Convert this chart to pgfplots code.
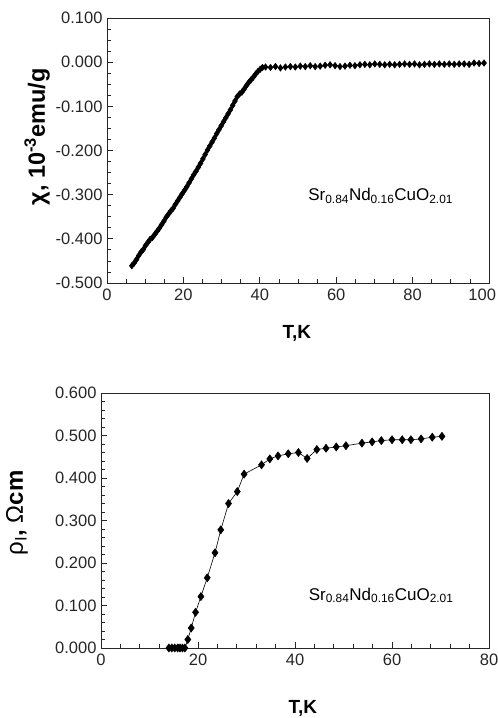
\documentclass[border=0pt]{standalone}
\usepackage{fontspec}
\setmainfont{Liberation Sans}
\usepackage{pgfplots}
\pgfplotsset{compat=1.18}

% chi(T), top panel
\pgfplotstableread{
T chi
6.5 -0.461
7.1 -0.455
7.7 -0.447
8.3 -0.438
8.9 -0.430
9.5 -0.424
10.1 -0.415
10.7 -0.408
11.3 -0.401
11.9 -0.397
12.5 -0.390
13.1 -0.383
13.7 -0.376
14.3 -0.368
14.9 -0.360
15.5 -0.351
16.1 -0.344
16.7 -0.337
17.3 -0.331
17.9 -0.322
18.5 -0.314
19.1 -0.306
19.7 -0.298
20.3 -0.290
20.9 -0.282
21.5 -0.273
22.1 -0.264
22.7 -0.255
23.3 -0.247
23.9 -0.238
24.5 -0.229
25.1 -0.219
25.7 -0.209
26.3 -0.199
26.9 -0.190
27.5 -0.181
28.1 -0.172
28.7 -0.162
29.3 -0.153
29.9 -0.144
30.5 -0.135
31.1 -0.126
31.7 -0.117
32.3 -0.108
32.9 -0.098
33.5 -0.088
34.1 -0.078
34.7 -0.072
35.3 -0.068
35.9 -0.061
36.5 -0.053
37.1 -0.046
37.7 -0.040
38.3 -0.034
38.9 -0.027
39.5 -0.021
40.1 -0.016
40.7 -0.012
41.5 -0.011
42.8 -0.012
44.1 -0.010
45.4 -0.013
46.7 -0.011
48.0 -0.010
49.3 -0.011
50.6 -0.009
51.9 -0.010
53.2 -0.008
54.5 -0.010
55.8 -0.009
57.1 -0.007
58.4 -0.006
59.7 -0.008
61.0 -0.010
62.3 -0.009
63.6 -0.007
64.9 -0.008
66.2 -0.006
67.5 -0.005
68.8 -0.006
70.1 -0.004
71.4 -0.005
72.7 -0.006
74.0 -0.005
75.3 -0.006
76.6 -0.005
77.9 -0.004
79.2 -0.005
80.5 -0.004
81.8 -0.006
83.1 -0.005
84.4 -0.004
85.7 -0.005
87.0 -0.004
88.3 -0.005
89.6 -0.004
90.9 -0.005
92.2 -0.004
93.5 -0.004
94.8 -0.005
96.1 -0.002
97.4 -0.003
98.7 -0.002
}\chidata

% rho(T), bottom panel
\pgfplotstableread{
T rho
14.0 0.000
14.6 0.000
15.2 0.000
15.8 0.000
16.3 0.000
16.8 0.000
17.3 0.000
17.9 0.020
18.6 0.047
19.5 0.084
20.6 0.121
21.9 0.165
23.5 0.224
24.7 0.278
26.3 0.340
28.1 0.368
29.5 0.409
33.1 0.431
34.8 0.445
36.5 0.452
38.6 0.457
40.7 0.460
42.5 0.446
44.5 0.467
46.4 0.470
48.5 0.473
50.5 0.476
53.8 0.482
55.9 0.485
57.8 0.488
60.0 0.490
62.1 0.490
63.9 0.490
66.0 0.492
68.3 0.496
70.3 0.498
}\rhodata

\pgfplotsset{
  panel/.style={
    scale only axis,
    anchor=south west,
    axis line style={line width=0.8bp, black!85},
    tick style={line width=0.8bp, black!85},
    tick align=inside,
    xtick pos=bottom, ytick pos=left,
    major tick length=6bp, minor tick length=4bp,
    ticklabel style={font=\fontsize{16.5bp}{19bp}\selectfont, text=black!85},
    label style={font=\bfseries\fontsize{19bp}{22bp}\selectfont},
    xticklabel style={yshift=-2bp},
    yticklabel style={xshift=-1bp},
  }
}

\begin{document}
\begin{tikzpicture}[x=1bp,y=1bp]
\path[use as bounding box] (0,0) rectangle (498,718);

\begin{axis}[panel,
  at={(107bp,435bp)}, width=382bp, height=265bp,
  xmin=0, xmax=100, ymin=-0.5, ymax=0.1,
  xtick={0,20,40,60,80,100},
  xticklabels={0,20,40,60,80,\makebox[14bp][r]{100}},
  ytick={-0.5,-0.4,-0.3,-0.2,-0.1,0,0.1},
  yticklabels={-0.500,-0.400,-0.300,-0.200,-0.100,0.000,0.100},
  minor x tick num=3, minor y tick num=3,
  xlabel={T,K},
  ylabel={χ, 10\textsuperscript{-3}emu/g},
  xlabel style={at={(axis description cs:0.497,-0.192)}, anchor=center},
  ylabel style={at={(axis description cs:-0.183,0.551)}, anchor=center,
    font=\bfseries\fontsize{23.5bp}{26bp}\selectfont},
]
\addplot[black, line width=0.6bp, mark=diamond*, mark size=3.2bp] table[x=T, y=chi] {\chidata};
\node[anchor=base east, font=\fontsize{17bp}{20bp}\selectfont] at (axis cs:91.5,-0.314)
  {Sr\textsubscript{0.84}Nd\textsubscript{0.16}CuO\textsubscript{2.01}};
\end{axis}

\begin{axis}[panel,
  at={(101bp,70bp)}, width=388bp, height=255bp,
  xmin=0, xmax=80, ymin=0, ymax=0.6,
  xtick={0,20,40,60,80},
  xticklabels={0,20,40,60,80},
  ytick={0,0.1,0.2,0.3,0.4,0.5,0.6},
  yticklabels={0.000,0.100,0.200,0.300,0.400,0.500,0.600},
  minor x tick num=4, minor y tick num=4,
  xlabel={T,K},
  ylabel={{\mdseries ρ\textsubscript{I}}, {\mdseries Ω}cm},
  xlabel style={at={(axis description cs:0.52,-0.238)}, anchor=center},
  ylabel style={at={(axis description cs:-0.2165,0.53)}, anchor=center,
    font=\bfseries\fontsize{24bp}{27bp}\selectfont},
]
\addplot[black, line width=0.6bp, mark=diamond*, mark size=4bp] table[x=T, y=rho] {\rhodata};
\node[anchor=base east, font=\fontsize{17bp}{20bp}\selectfont] at (axis cs:73.4,0.112)
  {Sr\textsubscript{0.84}Nd\textsubscript{0.16}CuO\textsubscript{2.01}};
\end{axis}
\end{tikzpicture}
\end{document}
